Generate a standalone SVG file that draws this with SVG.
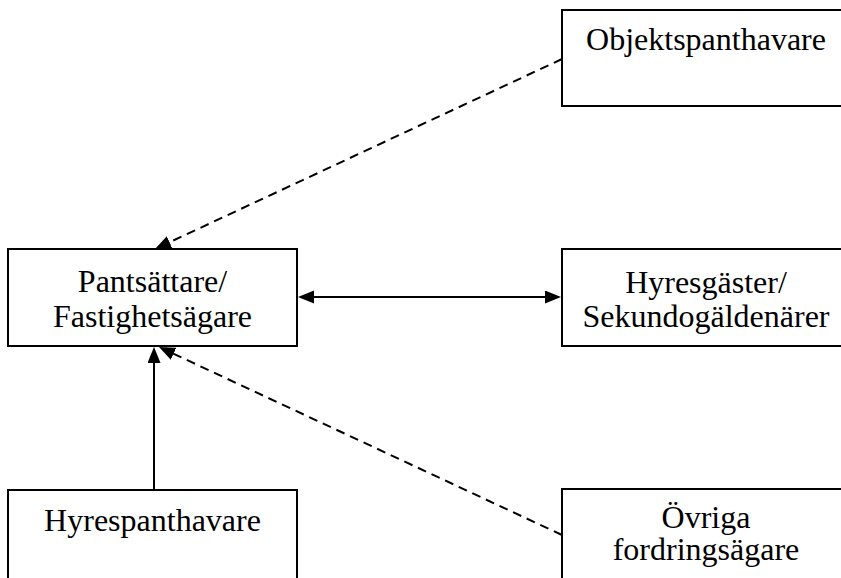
<svg xmlns="http://www.w3.org/2000/svg" width="841" height="578" viewBox="0 0 841 578">
<style>
.box{fill:#fff;stroke:#000;stroke-width:2}
.t{font-family:"Liberation Serif","Times New Roman",serif;font-size:32px;fill:#000;text-anchor:middle}
.ln{fill:none;stroke:#000;stroke-width:2}
.dash{stroke-dasharray:9 6}
</style>
<defs>
<marker id="ah" markerUnits="userSpaceOnUse" markerWidth="18" markerHeight="14" refX="2" refY="6.5" orient="auto-start-reverse">
<path d="M0,0 L16,6.5 L0,13 z" fill="#000"/>
</marker>
</defs>
<rect width="841" height="578" fill="#fff"/>
<g id="connectors">
<line class="ln dash" x1="562" y1="59" x2="167.7" y2="243.1" marker-end="url(#ah)"/>
<line class="ln" x1="312" y1="297" x2="547" y2="297" marker-start="url(#ah)" marker-end="url(#ah)"/>
<line class="ln" x1="154" y1="490" x2="154" y2="361" marker-end="url(#ah)"/>
<line class="ln dash" x1="562" y1="535" x2="171.7" y2="352.9" marker-end="url(#ah)"/>
</g>
<g id="objektspanthavare">
<rect class="box" x="562" y="10" width="290" height="96"/>
<text class="t" x="706" y="50">Objektspanthavare</text>
</g>
<g id="pantsattare">
<rect class="box" x="8" y="249" width="289" height="97"/>
<text class="t" x="152.5" y="292">Pantsättare/</text>
<text class="t" x="152.5" y="327">Fastighetsägare</text>
</g>
<g id="hyresgaster">
<rect class="box" x="562" y="249" width="290" height="97"/>
<text class="t" x="706" y="293">Hyresgäster/</text>
<text class="t" x="706" y="327">Sekundogäldenärer</text>
</g>
<g id="hyrespanthavare">
<rect class="box" x="8" y="490" width="289" height="100"/>
<text class="t" x="152.5" y="531">Hyrespanthavare</text>
</g>
<g id="ovriga">
<rect class="box" x="562" y="489" width="290" height="100"/>
<text class="t" x="706" y="528">Övriga</text>
<text class="t" x="706" y="560">fordringsägare</text>
</g>
</svg>
